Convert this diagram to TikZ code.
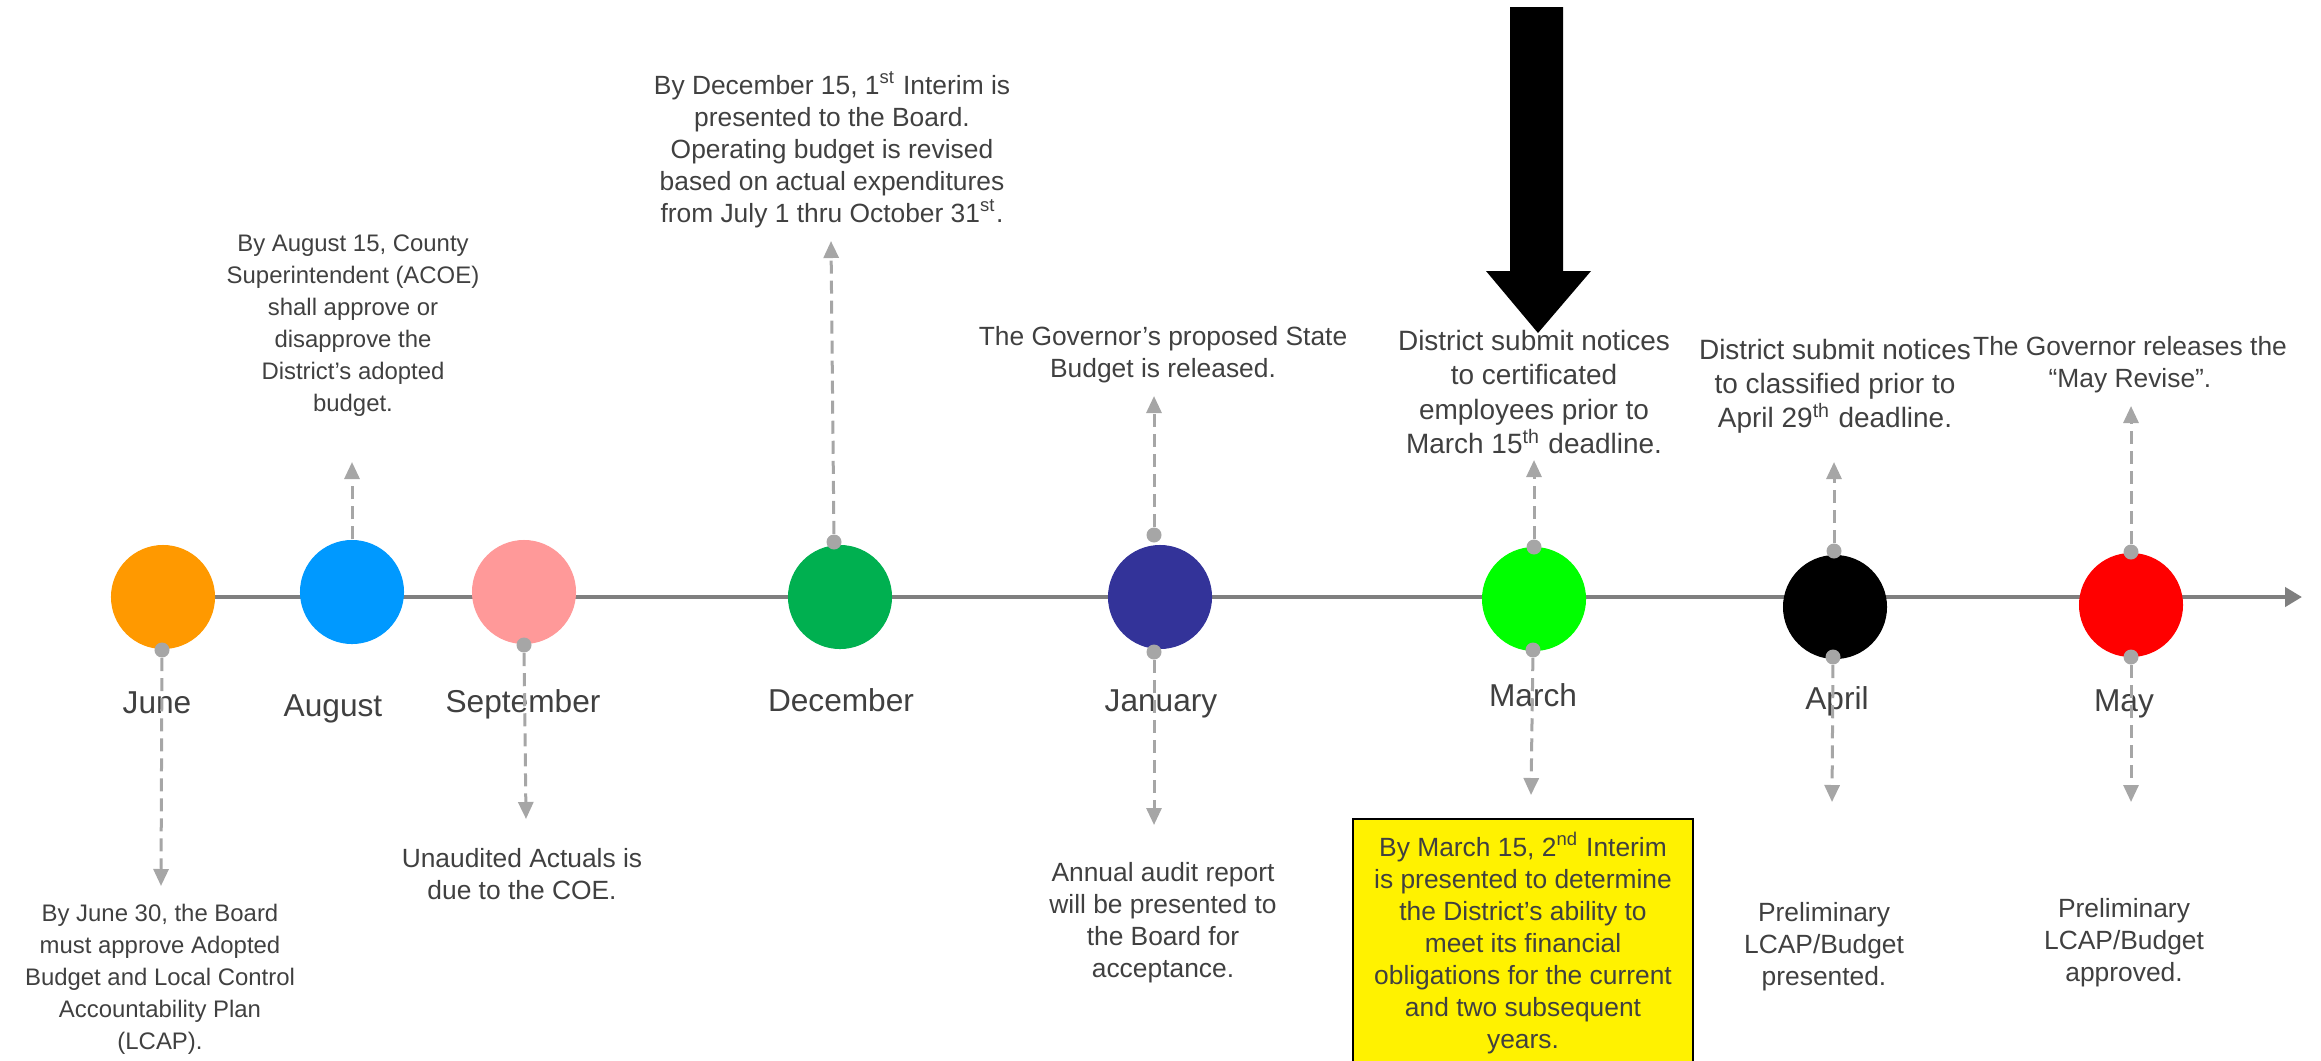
\documentclass[tikz,border=0pt]{standalone}
\usepackage{fontspec}
\setmainfont{Liberation Sans}
\usetikzlibrary{arrows.meta}
\definecolor{txtgray}{HTML}{404040}
\definecolor{linegray}{HTML}{7F7F7F}
\definecolor{dashgray}{HTML}{A6A6A6}
\definecolor{cjune}{HTML}{FF9900}
\definecolor{caug}{HTML}{0099FF}
\definecolor{csep}{HTML}{FF9999}
\definecolor{cdec}{HTML}{00B050}
\definecolor{cjan}{HTML}{333399}
\definecolor{cmar}{HTML}{00FF00}
\definecolor{capr}{HTML}{000000}
\definecolor{cmay}{HTML}{FF0000}
\tikzset{
  axis/.style={linegray,line width=0.045cm,-{Triangle[length=0.17cm,width=0.19cm]}},
  monthdot/.style={circle,inner sep=0pt,minimum size=1.04cm},
  pin/.style={circle,fill=dashgray,inner sep=0pt,minimum size=0.15cm},
  lead/.style={dashgray,line width=0.03cm,dash pattern=on 0.13cm off 0.07cm,-{Triangle[length=0.17cm,width=0.15cm]}},
  note/.style={align=center,text=txtgray,font=\fontsize{7.5}{9.1}\selectfont,inner sep=0pt},
  smallnote/.style={note,font=\fontsize{6.8}{9.1}\selectfont},
  bignote/.style={note,font=\fontsize{7.95}{9.7}\selectfont},
  monthlab/.style={text=txtgray,font=\fontsize{9}{11}\selectfont,inner sep=0pt},
  yellowbox/.style={draw=black,fill=yellow,line width=0.02cm,minimum width=3.39cm,minimum height=2.48cm,
    align=center,text=txtgray,font=\fontsize{7.5}{9.1}\selectfont,inner sep=0pt}
}
\begin{document}
\begin{tikzpicture}[x=0.01cm,y=-0.01cm]
\useasboundingbox (0,0) rectangle (2321,1060);
% timeline
\coordinate (tstart) at (163,597);
\coordinate (tend) at (2302,597);
\draw[axis] (tstart) -- (tend);
% months
\foreach \nm/\x/\y/\col/\lab/\lx/\ly in {jun/163/597/cjune/June/157/703,aug/352/592/caug/August/333/709,
  sep/524/592/csep/September/523/704,dec/840/597/cdec/December/841/700,jan/1160/597/cjan/January/1161/704,
  mar/1534/599/cmar/March/1533/695,apr/1835/607/capr/April/1837/701,may/2131/605/cmay/May/2124/704}{
  \node[monthdot,fill=\col] (\nm) at (\x,\y) {};
  \node[monthlab] (\nm lab) at (\lx,\ly) {\lab};
}
% pins and leads
\foreach \pn/\px/\py/\ax/\ay in {junb/162/650/161/886,sepb/524/645/526/819,dect/834/542/831/241,
  jant/1154/535/1154/396,janb/1154/652/1154/825,mart/1534/547/1534/460,marb/1533/650/1531/795,
  aprt/1834/551/1834/462,aprb/1833/657/1832/802,mayt/2131/552/2131/406,mayb/2131/657/2131/802}{
  \node[pin] (\pn) at (\px,\py) {};
  \coordinate (\pn end) at (\ax,\ay);
  \draw[lead] (\pn) -- (\pn end);
}
\coordinate (augend) at (352,462);
\draw[lead] (aug) -- (augend);
% notes above
\node[smallnote] (augnote) at (353,326) {By August 15, County\\Superintendent (ACOE)\\shall approve or\\disapprove the\\District’s adopted\\budget.};
\node[note] (decnote) at (832,150) {By December 15, 1\textsuperscript{st} Interim is\\presented to the Board.\\Operating budget is revised\\based on actual expenditures\\from July 1 thru October 31\textsuperscript{st}.};
\node[note] (jannote) at (1163,355) {The Governor’s proposed State\\Budget is released.};
\node[bignote] (marnote) at (1534,392) {District submit notices\\to certificated\\employees prior to\\March 15\textsuperscript{th} deadline.};
\node[bignote] (aprnote) at (1835,386) {District submit notices\\to classified prior to\\April 29\textsuperscript{th} deadline.};
\node[note] (maynote) at (2130,365) {The Governor releases the\\“May Revise”.};
% notes below
\node[smallnote] (junnote) at (160,979) {By June 30, the Board\\must approve Adopted\\Budget and Local Control\\Accountability Plan\\(LCAP).};
\node[note] (sepnote) at (522,874) {Unaudited Actuals is\\due to the COE.};
\node[note] (janlow) at (1163,923) {Annual audit report\\will be presented to\\the Board for\\acceptance.};
\node[yellowbox,anchor=north] (marbox) at (1523,818) {By March 15, 2\textsuperscript{nd} Interim\\is presented to determine\\the District’s ability to\\meet its financial\\obligations for the current\\and two subsequent\\years.};
\node[note] (aprlow) at (1824,947) {Preliminary\\LCAP/Budget\\presented.};
\node[note] (maylow) at (2124,943) {Preliminary\\LCAP/Budget\\approved.};
% big arrow
\fill[black] (1510,7) -- (1563,7) -- (1563,271) -- (1591,271) -- (1538,333) -- (1486,271) -- (1510,271) -- cycle;
\end{tikzpicture}
\end{document}
